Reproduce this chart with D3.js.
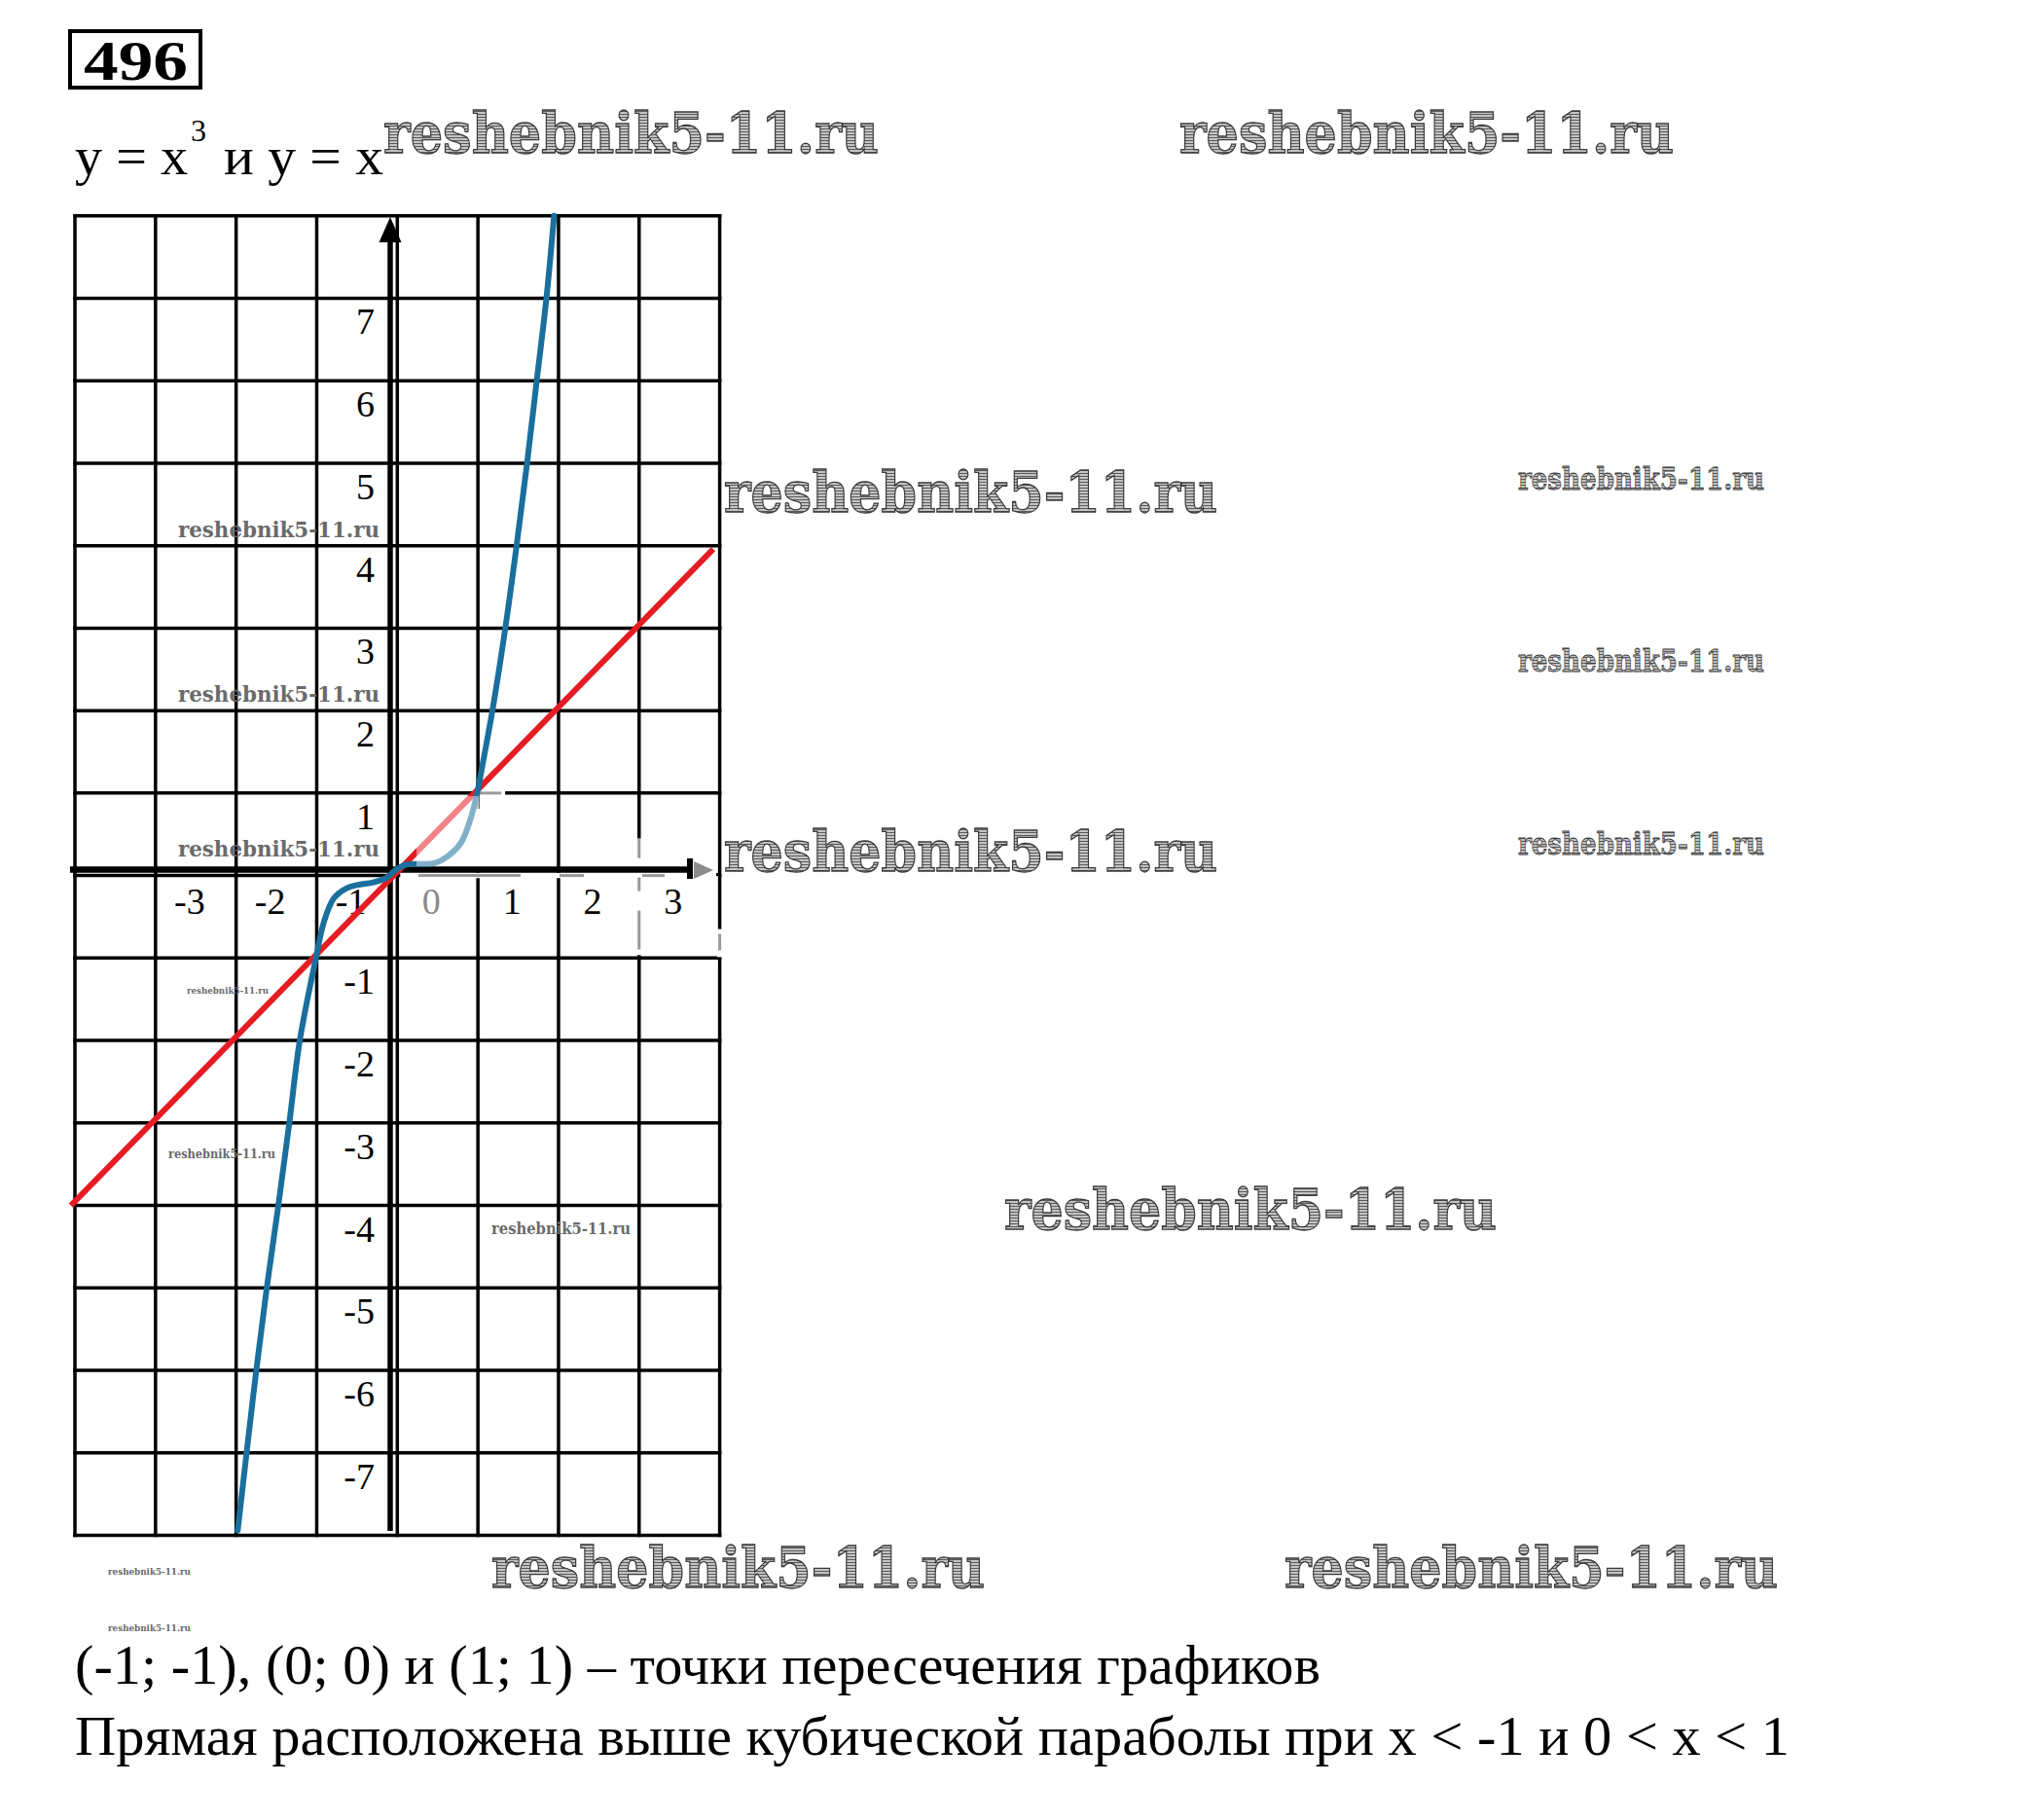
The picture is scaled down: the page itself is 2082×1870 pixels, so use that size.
<!DOCTYPE html>
<html>
<head>
<meta charset="utf-8">
<script src="https://cdn.jsdelivr.net/npm/d3@7"></script>
<style>
  body { margin: 0; background: #fff; }
  svg { display: block; }
  text { font-family: "Liberation Serif", "Times New Roman", serif; }
  .wm { font-family: "DejaVu Serif", serif; font-weight: bold; }
</style>
</head>
<body>
<script>
// ---- data ----
var problemNo = "496";
var titleLeft = "y = x";
var titleSup = "3";
var titleRight = "и y = x";
var answerLines = [
  "(-1; -1), (0; 0) и (1; 1) – точки пересечения графиков",
  "Прямая расположена выше кубической параболы при x < -1 и 0 < x < 1"
];

var gridX = [-4, -3, -2, -1, 0, 1, 2, 3, 4];
var gridY = [-8, -7, -6, -5, -4, -3, -2, -1, 0, 1, 2, 3, 4, 5, 6, 7, 8];
var xTicks = [-3, -2, -1, 0, 1, 2, 3];
var yTicks = [7, 6, 5, 4, 3, 2, 1, -1, -2, -3, -4, -5, -6, -7];

// y = x^3 as drawn (hand-drawn curve, read point by point)
var cubicX = [-1.98, -1.87, -1.75, -1.62, -1.476, -1.34, -1.21, -1.01, -0.91, -0.79, -0.64, -0.5, -0.3, -0.14, -0.02, 0.1, 0.3, 0.46, 0.62, 0.785, 0.886, 0.947, 0.995, 1.07, 1.18, 1.34, 1.48, 1.61, 1.73, 1.85, 1.945];
var cubicY = [-7.94, -7, -6, -5, -4, -3, -2, -1, -0.56, -0.28, -0.16, -0.115, -0.083, -0.03, 0.07, 0.13, 0.14, 0.15, 0.23, 0.39, 0.62, 0.82, 1.02, 1.41, 2, 3, 4, 5, 6, 7, 8];

// y = x
var lineX = [-4.05, 3.92];
var lineY = [-4.0, 3.96];

var watermark = "reshebnik5-11.ru";

// ---- drawing ----
var W = 2082, H = 1870;
var svg = d3.select("body").append("svg").attr("width", W).attr("height", H);

var x = d3.scaleLinear().domain([-4, 4]).range([77, 739.6]);
var y = d3.scaleLinear().domain([-8, 8]).range([1577.5, 221.7]);

var defs = svg.append("defs");
var pat = defs.append("pattern")
  .attr("id", "hatch")
  .attr("patternUnits", "userSpaceOnUse")
  .attr("width", 5)
  .attr("height", 3);
pat.append("rect").attr("width", 5).attr("height", 3).attr("fill", "#c4c4c4");
pat.append("line")
  .attr("x1", 0).attr("y1", 0.5).attr("x2", 5).attr("y2", 0.5)
  .attr("stroke", "#5a5a5a").attr("stroke-width", 1);

// header box
svg.append("rect")
  .attr("x", 72).attr("y", 32).attr("width", 134).attr("height", 58)
  .attr("fill", "none").attr("stroke", "#000").attr("stroke-width", 4);
svg.append("text")
  .attr("x", 86).attr("y", 81.5)
  .attr("font-size", 58).attr("font-weight", "bold")
  .attr("textLength", 107).attr("lengthAdjust", "spacingAndGlyphs")
  .text(problemNo);

// title
svg.append("text")
  .attr("x", 77).attr("y", 179).attr("font-size", 55)
  .attr("textLength", 116).attr("lengthAdjust", "spacingAndGlyphs")
  .text(titleLeft);
svg.append("text")
  .attr("x", 196).attr("y", 145).attr("font-size", 32)
  .text(titleSup);
svg.append("text")
  .attr("x", 230).attr("y", 179).attr("font-size", 55)
  .attr("textLength", 164).attr("lengthAdjust", "spacingAndGlyphs")
  .text(titleRight);

// grid
var grid = svg.append("g")
  .attr("stroke", "#000").attr("stroke-width", 3.5).attr("stroke-linecap", "square");
grid.selectAll("line.v").data(gridX).join("line")
  .attr("class", "v")
  .attr("x1", function (d) { return x(d); }).attr("x2", function (d) { return x(d); })
  .attr("y1", y(8)).attr("y2", y(-8));
grid.selectAll("line.h").data(gridY).join("line")
  .attr("class", "h")
  .attr("x1", x(-4)).attr("x2", x(4))
  .attr("y1", function (d) { return y(d); }).attr("y2", function (d) { return y(d); });

// rubbed-out bits of the grid near the right half of the x axis
var erase = svg.append("g").attr("stroke", "#fff").attr("stroke-width", 5.5);
erase.append("line").attr("x1", x(0) + 3).attr("x2", x(4) - 2).attr("y1", y(0)).attr("y2", y(0));
erase.append("line").attr("x1", x(1)).attr("x2", x(1)).attr("y1", y(1) + 16).attr("y2", y(0) - 4);
erase.append("line").attr("x1", x(3)).attr("x2", x(3)).attr("y1", y(0) - 38).attr("y2", y(-1) - 3);
erase.append("line").attr("x1", x(4)).attr("x2", x(4)).attr("y1", y(0) + 55).attr("y2", y(-1) - 1);
erase.append("line").attr("x1", x(1) + 2).attr("x2", x(1) + 28).attr("y1", y(1)).attr("y2", y(1));

var grey = svg.append("g").attr("stroke", "#9a9a9a").attr("stroke-width", 3);
[[430, 535], [575, 600], [660, 683]].forEach(function (s) {
  grey.append("line").attr("x1", s[0]).attr("x2", s[1]).attr("y1", y(0)).attr("y2", y(0));
});
[[y(0) - 38, y(0) - 18], [y(0) + 2, y(0) + 16], [y(0) + 36, y(0) + 76]].forEach(function (s) {
  grey.append("line").attr("x1", x(3)).attr("x2", x(3)).attr("y1", s[0]).attr("y2", s[1]);
});
grey.append("line").attr("x1", x(4)).attr("x2", x(4)).attr("y1", y(0) + 60).attr("y2", y(0) + 77);
grey.append("line").attr("x1", x(1)).attr("x2", x(1)).attr("y1", y(1)).attr("y2", y(1) + 16);
grey.append("line").attr("x1", x(1)).attr("x2", x(1) + 24).attr("y1", y(1)).attr("y2", y(1));

// axes
svg.append("line")
  .attr("x1", 401).attr("x2", 401).attr("y1", 246).attr("y2", 1573)
  .attr("stroke", "#000").attr("stroke-width", 5.5);
svg.append("polygon")
  .attr("points", "401,223 389.5,249 412.5,249")
  .attr("fill", "#000");
svg.append("line")
  .attr("x1", 72).attr("x2", 708).attr("y1", 893.5).attr("y2", 893.5)
  .attr("stroke", "#000").attr("stroke-width", 6.5);
svg.append("rect")
  .attr("x", 706).attr("y", 882).attr("width", 6).attr("height", 21).attr("fill", "#000");
svg.append("polygon")
  .attr("points", "713,885 733,894 713,903")
  .attr("fill", "#8c8c8c");
svg.append("rect")
  .attr("x", 736).attr("y", 897).attr("width", 3).attr("height", 3).attr("fill", "#000");

// tick labels
svg.append("g").selectAll("text").data(yTicks).join("text")
  .attr("x", 385)
  .attr("y", function (d) { return y(d) + 37; })
  .attr("text-anchor", "end")
  .attr("font-size", 38)
  .text(function (d) { return d; });
svg.append("g").selectAll("text").data(xTicks).join("text")
  .attr("x", function (d) { return x(d) + 35; })
  .attr("y", 939)
  .attr("text-anchor", "middle")
  .attr("font-size", 38)
  .attr("fill", function (d) { return d === 0 ? "#8a8a8a" : "#000"; })
  .text(function (d) { return d; });

// graphs
svg.append("path")
  .datum(d3.zip(lineX, lineY))
  .attr("d", d3.line().x(function (d) { return x(d[0]); }).y(function (d) { return y(d[1]); }))
  .attr("fill", "none").attr("stroke", "#e51c23").attr("stroke-width", 6);

svg.append("path")
  .datum(d3.zip(cubicX, cubicY))
  .attr("d", d3.line()
    .x(function (d) { return x(d[0]); })
    .y(function (d) { return y(d[1]); })
    .curve(d3.curveCatmullRom.alpha(0.5)))
  .attr("fill", "none").attr("stroke", "#1a6f9c").attr("stroke-width", 6)
  .attr("stroke-linecap", "round");

// whitish patch over the (0..1, 0..1) cell as in the scan
svg.append("rect")
  .attr("x", 428).attr("y", 818).attr("width", 64).attr("height", 72)
  .attr("fill", "#fff").attr("opacity", 0.45);

// answer text
svg.selectAll("text.ans").data(answerLines).join("text")
  .attr("class", "ans")
  .attr("x", 77)
  .attr("y", function (d, i) { return i === 0 ? 1730 : 1803; })
  .attr("font-size", 56)
  .attr("textLength", function (d, i) { return i === 0 ? 1280 : 1762; })
  .attr("lengthAdjust", "spacingAndGlyphs")
  .text(function (d) { return d; });

// site watermarks
var marks = [
  [394, 157, 509, 58], [1212, 157, 508, 58], [744, 526, 507, 58],
  [744, 895, 507, 58], [1032, 1263, 506, 58], [505, 1631, 507, 58],
  [1320, 1631, 507, 58],
  [1560, 503, 253, 31], [1560, 690, 253, 31], [1560, 878, 253, 31],
  [183, 552, 207, 23], [183, 721, 207, 23], [183, 880, 207, 22],
  [192, 1021, 84, 10], [173, 1190, 110, 13], [505, 1268, 143, 17],
  [111, 1618, 85, 10], [111, 1676, 85, 10]
];
svg.append("g").selectAll("text").data(marks).join("text")
  .attr("class", "wm")
  .attr("x", function (d) { return d[0]; })
  .attr("y", function (d) { return d[1]; })
  .attr("font-size", function (d) { return d[3]; })
  .attr("textLength", function (d) { return d[2]; })
  .attr("lengthAdjust", "spacingAndGlyphs")
  .attr("fill", function (d) { return d[3] > 25 ? "url(#hatch)" : "#6a6a6a"; })
  .attr("stroke", function (d) { return d[3] > 25 ? "#3a3a3a" : "none"; })
  .attr("stroke-width", function (d) { return d[3] > 40 ? 1.3 : 0.8; })
  .text(watermark);
</script>
</body>
</html>
